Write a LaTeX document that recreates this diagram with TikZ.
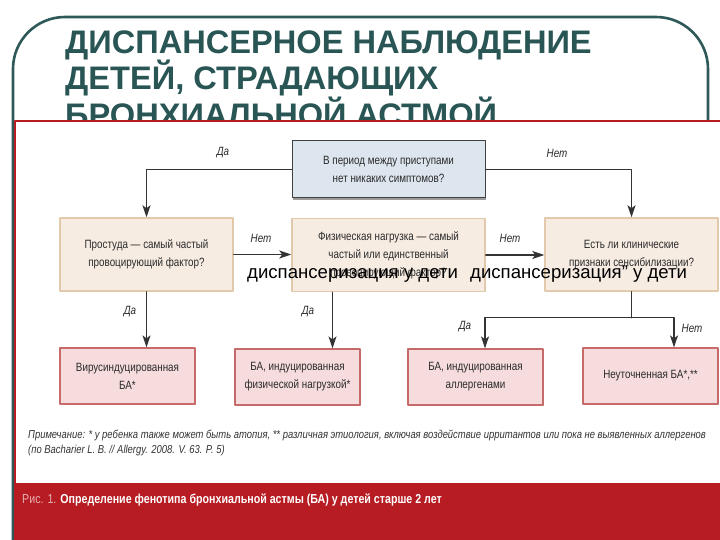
\documentclass[tikz,border=0pt]{standalone}
\usepackage{fontspec}
\setmainfont{Liberation Sans}
\newfontfamily\narrowfont[FakeStretch=0.82]{Liberation Sans}
\newfontfamily\capfont[FakeStretch=0.82]{Liberation Sans}
\usetikzlibrary{arrows.meta,shadows,calc}

\definecolor{frameteal}{HTML}{2F5858}
\definecolor{titleteal}{HTML}{2A5555}
\definecolor{figred}{HTML}{B71C23}
\definecolor{qblue}{HTML}{DDE6EE}
\definecolor{qbeige}{HTML}{F6ECE2}
\definecolor{qbeigeline}{HTML}{E2C9AC}
\definecolor{rpink}{HTML}{F6DCDC}
\definecolor{rpinkline}{HTML}{C66A6A}
\definecolor{inktext}{HTML}{2B2B2B}

\tikzset{
  titletext/.style={font=\bfseries\fontsize{32.6}{36}\selectfont, text=titleteal, inner sep=0pt},
  boxtext/.style={align=center, text=inktext, inner sep=0pt,
    font=\narrowfont\fontsize{12}{18}\selectfont},
  qtop/.style={boxtext, draw=black!75, line width=1pt, fill=qblue,
    minimum width=193pt, minimum height=57pt,
    drop shadow={shadow xshift=1.2pt, shadow yshift=-1.6pt, fill=black!55, opacity=0.7}},
  qmid/.style={boxtext, draw=qbeigeline, line width=1.5pt, fill=qbeige, minimum height=73pt},
  res/.style={boxtext, draw=rpinkline, line width=1.2pt, fill=rpink, minimum height=56pt,
    drop shadow={shadow xshift=1pt, shadow yshift=-1.4pt, fill=black!35, opacity=0.6}},
  link/.style={draw=black!80, line width=1.3pt},
  arr/.style={link, -{Stealth[length=12pt, width=8pt, inset=3pt]}},
  lbl/.style={font=\narrowfont\itshape\fontsize{12}{12}\selectfont, text=inktext, inner sep=0pt},
  note/.style={font=\narrowfont\itshape\fontsize{11.5}{11.5}\selectfont, text=black!80, inner sep=0pt},
  stamptext/.style={font=\fontsize{18.6}{18.6}\selectfont, text=black, inner sep=0pt}
}

\begin{document}
\begin{tikzpicture}[x=1pt, y=-1pt, line cap=round, line join=round]
\useasboundingbox (0,0) rectangle (720,540);
\fill[white] (0,0) rectangle (720,540);

% slide frame and title
\draw[frameteal, line width=2.6pt, rounded corners=52pt] (13,600) -- (13,17) -- (708,17) -- (708,600);
\node[titletext, anchor=base west] (title1) at (65,53.3) {ДИСПАНСЕРНОЕ НАБЛЮДЕНИЕ};
\node[titletext, anchor=base west] (title2) at (65,90) {ДЕТЕЙ, СТРАДАЮЩИХ};
\node[titletext, anchor=base west] (title3) at (65,126.5) {БРОНХИАЛЬНОЙ АСТМОЙ};

% figure
\filldraw[fill=white, draw=figred, line width=2pt] (15,121) rectangle (730,560);
\fill[figred] (15,483) rectangle (730,560);

% questions
\node[qtop] (qsym) at (388.5,169.5) {В период между приступами\\нет никаких симптомов?};
\node[qmid, minimum width=173pt] (qcold) at (146.5,254.5) {Простуда — самый частый\\провоцирующий фактор?};
\node[qmid, minimum width=193pt] (qexer) at (388.5,255) {Физическая нагрузка — самый\\частый или единственный\\провоцирующий фактор?};
\node[qmid, minimum width=173pt] (qsens) at (631.5,254.5) {Есть ли клинические\\признаки сенсибилизации?};

% phenotypes
\node[res, minimum width=135pt] (rvir) at (127.5,376) {Вирусиндуцированная\\БА*};
\node[res, minimum width=125pt] (rexer) at (297.5,377) {БА, индуцированная\\физической нагрузкой*};
\node[res, minimum width=135pt] (rall) at (475.5,377) {БА, индуцированная\\аллергенами};
\node[res, minimum width=135pt] (runs) at (650.5,376) {Неуточненная БА*,**};

% connectors
\draw[arr] (qsym.west) -| (qcold.north);
\draw[arr] (qsym.east) -| (qsens.north);
\draw[arr] (qcold.east) -- (qcold.east -| qexer.west);
\draw[arr] (qexer.east) -- (qexer.east -| qsens.west);
\draw[arr] (qcold.south) -- (qcold.south |- rvir.north);
\draw[arr] ([xshift=-56pt]qexer.south) -- ([xshift=-56pt]qexer.south |- rexer.north);
\draw[link] (qsens.south) -- ++(0,26) coordinate (fork);
\draw[arr] (fork) -| ([xshift=9.5pt]rall.north);
\draw[arr] (fork) -| ([xshift=23.5pt]runs.north);

\node[lbl] (yes1) at (223,153) {Да};
\node[lbl] (no1) at (557,153) {Нет};
\node[lbl] (no2) at (261,238) {Нет};
\node[lbl] (no3) at (510,238) {Нет};
\node[lbl] (yes2) at (130,312) {Да};
\node[lbl] (yes3) at (308,312) {Да};
\node[lbl] (yes4) at (465,327) {Да};
\node[lbl] (no4) at (692,328) {Нет};

% note and caption
\node[note, anchor=west] (note1) at (28,435) {Примечание: * у ребенка также может быть атопия, ** различная этиология, включая воздействие ирритантов или пока не выявленных аллергенов};
\node[note, anchor=west] (note2) at (28,451) {(по Bacharier L. B. // Allergy. 2008. V. 63. P. 5)};
\node[anchor=west, inner sep=0pt, font=\capfont\fontsize{13}{13}\selectfont] (caption) at (22,500)
  {\textcolor{figred!35}{Рис. 1.} \textcolor{white}{\bfseries Определение фенотипа бронхиальной астмы (БА) у детей старше 2 лет}};

% stamped text
\node[stamptext, anchor=base west] (stamp1) at (247,278.7) {диспансеризация у дети};
\node[stamptext, anchor=base west] (stamp2) at (470,278.7) {диспансеризация" у дети};
\end{tikzpicture}
\end{document}
